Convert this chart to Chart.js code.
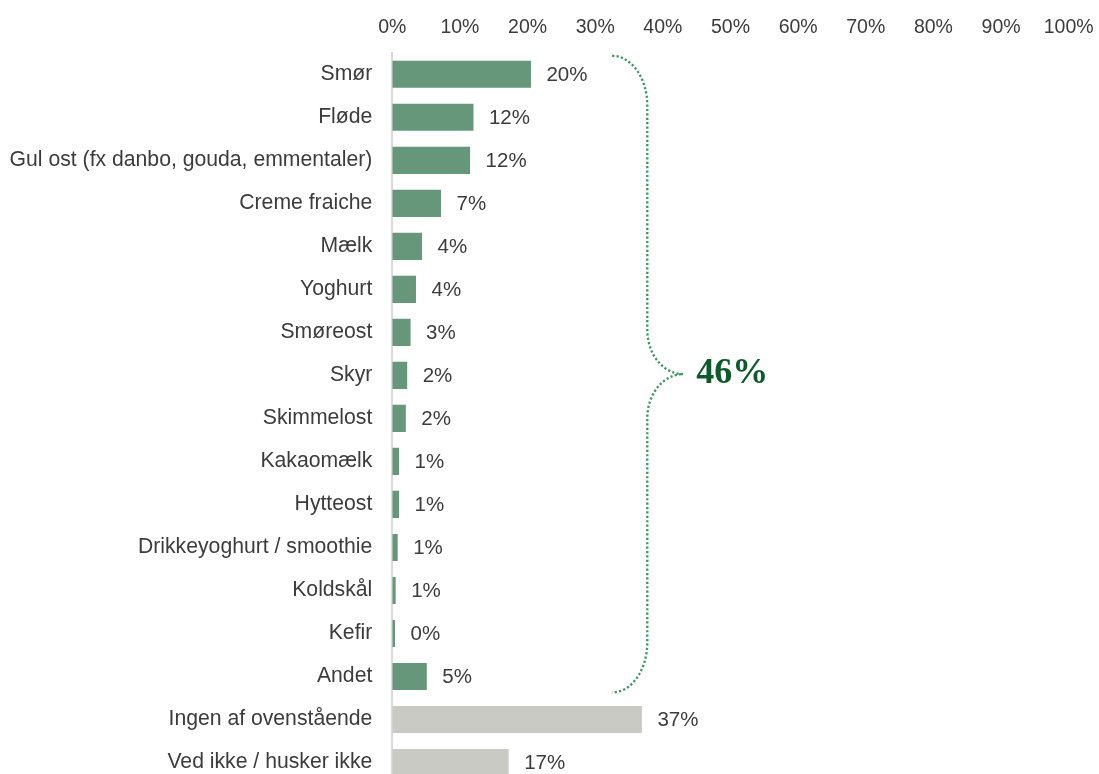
<!DOCTYPE html>
<html>
<head>
<meta charset="utf-8">
<script src="https://cdn.jsdelivr.net/npm/chart.js@4.4.1/dist/chart.umd.min.js"></script>
<style>
  html, body { margin: 0; padding: 0; background: #ffffff; overflow: hidden; }
  #wrap { width: 1099px; height: 784px; }
</style>
</head>
<body>
<div id="wrap"><canvas id="c" width="1099" height="784"></canvas></div>
<script>
// ---- Data ----
const categories = [
  'Smør', 'Fløde', 'Gul ost (fx danbo, gouda, emmentaler)', 'Creme fraiche', 'Mælk',
  'Yoghurt', 'Smøreost', 'Skyr', 'Skimmelost', 'Kakaomælk', 'Hytteost',
  'Drikkeyoghurt / smoothie', 'Koldskål', 'Kefir', 'Andet',
  'Ingen af ovenstående', 'Ved ikke / husker ikke'
];
const values = [20.5, 12.0, 11.5, 7.2, 4.4, 3.5, 2.7, 2.2, 2.0, 1.0, 1.0, 0.8, 0.5, 0.4, 5.1, 36.9, 17.2];
const valueLabels = ['20%', '12%', '12%', '7%', '4%', '4%', '3%', '2%', '2%', '1%', '1%', '1%', '1%', '0%', '5%', '37%', '17%'];
const groups = ['dairy','dairy','dairy','dairy','dairy','dairy','dairy','dairy','dairy','dairy','dairy','dairy','dairy','dairy','dairy','none','none'];
const tickValues = [0, 10, 20, 30, 40, 50, 60, 70, 80, 90, 100];
const braceTotalLabel = '46%';

// ---- Styles ----
const groupColors = { dairy: '#66977a', none: '#c9cac4' };
const textColor = '#3c3c3c';
const fontFamily = '"Liberation Sans", Arial, sans-serif';

// brace annotation layout (in scale units)
const brace = {
  fromIndex: -0.43, toIndex: 14.37,
  endValue: 32.5, spineValue: 37.7, tipValue: 43.0,
  endRadius: 50, midRadius: 44,
  color: '#3d9660', font: 'bold 36px "Liberation Serif", "Times New Roman", serif', textColor: '#0d5a2a'
};

const dataLabelPlugin = {
  id: 'dataLabels',
  afterDatasetsDraw(chart) {
    const ctx = chart.ctx;
    const meta = chart.getDatasetMeta(0);
    ctx.save();
    ctx.font = '20.5px ' + fontFamily;
    ctx.fillStyle = textColor;
    ctx.textAlign = 'left';
    ctx.textBaseline = 'middle';
    meta.data.forEach((bar, i) => {
      ctx.fillText(valueLabels[i], bar.x + 15.5, bar.y + 1);
    });
    ctx.restore();
  }
};

const bracePlugin = {
  id: 'brace',
  afterDraw(chart) {
    const ctx = chart.ctx;
    const xs = chart.scales.x, ys = chart.scales.y;
    const top = ys.getPixelForValue(brace.fromIndex);
    const bot = ys.getPixelForValue(brace.toIndex);
    const mid = (top + bot) / 2;
    const x0 = xs.getPixelForValue(brace.endValue);
    const xm = xs.getPixelForValue(brace.spineValue);
    const xt = xs.getPixelForValue(brace.tipValue);
    const r1 = brace.endRadius, r2 = brace.midRadius, k = 0.5523;
    ctx.save();
    ctx.strokeStyle = brace.color;
    ctx.lineWidth = 2.3;
    ctx.lineCap = 'butt';
    ctx.setLineDash([2.2, 2.2]);
    ctx.beginPath();
    ctx.moveTo(x0, top);
    ctx.bezierCurveTo(x0 + k * (xm - x0), top, xm, top + r1 - k * r1, xm, top + r1);
    ctx.lineTo(xm, mid - r2);
    ctx.bezierCurveTo(xm, mid - r2 + k * r2, xt - k * (xt - xm), mid, xt, mid);
    ctx.bezierCurveTo(xt - k * (xt - xm), mid, xm, mid + r2 - k * r2, xm, mid + r2);
    ctx.lineTo(xm, bot - r1);
    ctx.bezierCurveTo(xm, bot - r1 + k * r1, x0 + k * (xm - x0), bot, x0, bot);
    ctx.stroke();
    ctx.setLineDash([]);
    ctx.font = brace.font;
    ctx.fillStyle = brace.textColor;
    ctx.textAlign = 'left';
    ctx.textBaseline = 'middle';
    ctx.fillText(braceTotalLabel, xt + 13, mid);
    ctx.restore();
  }
};

new Chart(document.getElementById('c'), {
  type: 'bar',
  data: {
    labels: categories,
    datasets: [{
      data: values,
      backgroundColor: groups.map(g => groupColors[g]),
      borderWidth: 0,
      barPercentage: 0.63,
      categoryPercentage: 1.0
    }]
  },
  options: {
    indexAxis: 'y',
    responsive: false,
    devicePixelRatio: 1,
    animation: false,
    layout: { padding: { left: 0, right: 30.3, top: 0, bottom: 0 } },
    plugins: { legend: { display: false }, tooltip: { enabled: false } },
    scales: {
      x: {
        position: 'top',
        min: 0, max: 100,
        afterBuildTicks(scale) { scale.ticks = tickValues.map(v => ({ value: v })); },
        afterFit(scale) {
          scale.height = 52.8;
          scale.paddingLeft = 0; scale.paddingRight = 0;
        },
        ticks: {
          callback: v => v + '%',
          color: textColor,
          font: { family: fontFamily, size: 19.5 },
          padding: 13,
          maxRotation: 0,
          autoSkip: false
        },
        grid: { display: false, drawTicks: false },
        border: { display: false }
      },
      y: {
        afterFit(scale) {
          scale.width = 392.3;
          scale.paddingTop = 0; scale.paddingBottom = 0;
        },
        ticks: {
          color: textColor,
          font: { family: fontFamily, size: 21.2 },
          padding: 20,
          autoSkip: false
        },
        grid: { display: false, drawTicks: false },
        border: { display: true, color: '#d9d9d9', width: 2 }
      }
    }
  },
  plugins: [dataLabelPlugin, bracePlugin]
});
</script>
</body>
</html>
